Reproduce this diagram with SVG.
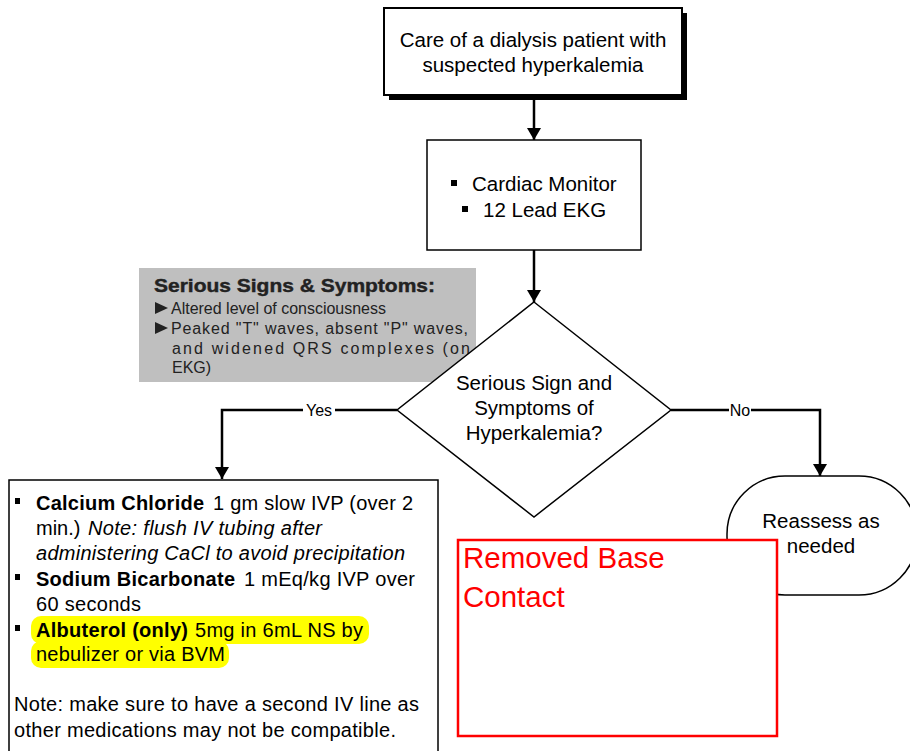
<svg xmlns="http://www.w3.org/2000/svg" width="910" height="751" viewBox="0 0 910 751">
<style>
.t{font-family:"Liberation Sans",Arial,sans-serif;fill:#000}
.b{font-weight:bold}
.i{font-style:italic}
.box{fill:#fff;stroke:#000;stroke-width:1.5}
.con{fill:none;stroke:#000;stroke-width:2.5}
.lbl{font-family:"Liberation Sans",Arial,sans-serif;font-size:16px;fill:#000}
.g{fill:#222}
</style>
<defs>
<marker id="ah" viewBox="0 0 12 14" refX="12" refY="7" markerWidth="12" markerHeight="14" markerUnits="userSpaceOnUse" orient="auto">
<path d="M0,0 L12,7 L0,14 Z" fill="#000"/>
</marker>
</defs>
<rect width="910" height="751" fill="#fff"/>

<g id="connectors">
<line class="con" x1="534" y1="96" x2="534" y2="140" marker-end="url(#ah)"/>
<line class="con" x1="534" y1="250" x2="534" y2="302" marker-end="url(#ah)"/>
<polyline class="con" points="397,410 222,410 222,479" marker-end="url(#ah)"/>
<polyline class="con" points="671,410 820,410 820,476" marker-end="url(#ah)"/>
<rect x="303" y="401" width="32" height="18" fill="#fff"/>
<text class="lbl" x="319" y="416" text-anchor="middle">Yes</text>
<rect x="729" y="401" width="22" height="18" fill="#fff"/>
<text class="lbl" x="740" y="416" text-anchor="middle">No</text>
</g>

<g id="start">
<rect x="389" y="13" width="298" height="87" fill="#000"/>
<rect x="384" y="8" width="298" height="87" fill="#fff" stroke="#000" stroke-width="2"/>
<text class="t" font-size="20.5" x="533" y="47" text-anchor="middle">Care of a dialysis patient with</text>
<text class="t" font-size="20.5" x="533" y="72" text-anchor="middle">suspected hyperkalemia</text>
</g>

<g id="monitor">
<rect class="box" x="427" y="140" width="214" height="110"/>
<rect x="451" y="180" width="6" height="6" fill="#000"/>
<text class="t" font-size="20.5" x="472" y="191">Cardiac Monitor</text>
<rect x="462" y="206" width="6" height="6" fill="#000"/>
<text class="t" font-size="20.5" x="483" y="217">12 Lead EKG</text>
</g>

<g id="signs">
<rect x="139" y="268" width="337" height="114" fill="#bfbfbf"/>
<text class="t g" font-size="18" x="154" y="292" textLength="281" lengthAdjust="spacingAndGlyphs" style="font-weight:900;stroke:#222;stroke-width:0.4">Serious Signs &amp; Symptoms:</text>
<path d="M155,302 L168,308 L155,314 Z" class="g"/>
<text class="t g" font-size="16" x="171" y="314" textLength="215" lengthAdjust="spacingAndGlyphs">Altered level of consciousness</text>
<path d="M155,322 L168,328 L155,334 Z" class="g"/>
<text class="t g" font-size="16" x="171" y="334" textLength="297">Peaked "T" waves, absent "P" waves,</text>
<text class="t g" font-size="16" x="172" y="354" textLength="298">and widened QRS complexes (on</text>
<text class="t g" font-size="16" x="172" y="373">EKG)</text>
</g>

<g id="decision">
<polygon points="534,302 671,410 534,517 397,410" fill="#fff" stroke="#000" stroke-width="1.5"/>
<text class="t" font-size="20.5" x="534" y="390" text-anchor="middle">Serious Sign and</text>
<text class="t" font-size="20.5" x="534" y="415" text-anchor="middle">Symptoms of</text>
<text class="t" font-size="20.5" x="534" y="440" text-anchor="middle">Hyperkalemia?</text>
</g>

<g id="treatment">
<rect class="box" x="9" y="480" width="429" height="290"/>
<rect x="31" y="616" width="338" height="28" rx="10" fill="#ffff00"/>
<rect x="31" y="641" width="198" height="27" rx="10" fill="#ffff00"/>
<rect x="15" y="498" width="5" height="6" fill="#000"/>
<text class="t b" font-size="20" x="36" y="510" textLength="168">Calcium Chloride</text>
<text class="t" font-size="20" x="213" y="510" textLength="200">1 gm slow IVP (over 2</text>
<text class="t" font-size="20" x="36" y="535">min.)</text>
<text class="t i" font-size="20" x="88" y="535" textLength="234">Note: flush IV tubing after</text>
<text class="t i" font-size="20" x="36" y="560" textLength="369">administering CaCl to avoid precipitation</text>
<rect x="15" y="574" width="5" height="6" fill="#000"/>
<text class="t b" font-size="20" x="36" y="586" textLength="199">Sodium Bicarbonate</text>
<text class="t" font-size="20" x="244" y="586" textLength="171">1 mEq/kg IVP over</text>
<text class="t" font-size="20" x="36" y="611" textLength="105">60 seconds</text>
<rect x="15" y="625" width="5" height="6" fill="#000"/>
<text class="t b" font-size="20" x="36" y="637" textLength="152">Albuterol (only)</text>
<text class="t" font-size="20" x="195" y="637" textLength="168">5mg in 6mL NS by</text>
<text class="t" font-size="20" x="36" y="661" textLength="189">nebulizer or via BVM</text>
<text class="t" font-size="20" x="14" y="711" textLength="405">Note: make sure to have a second IV line as</text>
<text class="t" font-size="20" x="14" y="737" textLength="382">other medications may not be compatible.</text>
</g>

<g id="reassess">
<rect class="box" x="727" y="476" width="190" height="119" rx="58" ry="58"/>
<text class="t" font-size="20.5" x="821" y="528" text-anchor="middle">Reassess as</text>
<text class="t" font-size="20.5" x="821" y="553" text-anchor="middle">needed</text>
</g>

<g id="removed">
<rect x="458" y="540" width="319" height="196" fill="#fff" stroke="#ff0000" stroke-width="2.5"/>
<text font-family="Liberation Sans, Arial, sans-serif" font-size="29.5" fill="#ff0000" x="463" y="568">Removed Base</text>
<text font-family="Liberation Sans, Arial, sans-serif" font-size="29.5" fill="#ff0000" x="463" y="607">Contact</text>
</g>
</svg>
